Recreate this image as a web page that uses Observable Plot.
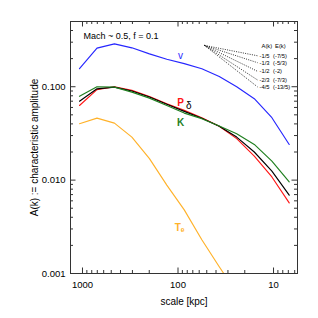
<!DOCTYPE html>
<html><head><meta charset="utf-8">
<script src="https://cdn.jsdelivr.net/npm/d3@7"></script>
<script src="https://cdn.jsdelivr.net/npm/@observablehq/plot@0.6"></script>
<style>
body{margin:0;background:#fff}
svg{font-family:"Liberation Sans",Arial,Helvetica,sans-serif}
</style>
</head><body><div id="chart"></div>
<script>
// scale [kpc] at each sampled point
const scaleKpc = [1075, 705, 463, 304, 199, 131, 86, 56.3, 37, 24.3, 15.9, 10.4, 6.85];
// characteristic amplitudes A(k)
const ampV     = [0.156, 0.259, 0.288, 0.261, 0.225, 0.197, 0.177, 0.156, 0.129, 0.100, 0.0744, 0.0466, 0.0241];
const ampP     = [0.063, 0.093, 0.100, 0.0914, 0.0787, 0.0658, 0.0558, 0.0466, 0.0377, 0.0278, 0.0181, 0.0108, 0.0057];
const ampDelta = [0.070, 0.095, 0.099, 0.090, 0.0775, 0.065, 0.0545, 0.046, 0.0377, 0.0289, 0.0200, 0.0125, 0.0069];
const ampK     = [0.079, 0.100, 0.099, 0.0875, 0.0755, 0.063, 0.0522, 0.0455, 0.0379, 0.0314, 0.0241, 0.0160, 0.0096];
const ampTe    = [0.0402, 0.0461, 0.0408, 0.0289, 0.0170, 0.00885, 0.0048, 0.0023, 0.00118, 0.00062];

const seriesNames  = ["v", "P", "δ", "K", "Tₑ"];
const seriesColors = ["#2626ff", "#ff1616", "#000000", "#1f7f1f", "#ffb22a"];
const seriesWeight = ["normal", "bold", "normal", "bold", "bold"];
const seriesValues = [ampV, ampP, ampDelta, ampK, ampTe];
// label anchor positions (scale, amplitude)
const labelScale = [94, 94, 77, 94, 96];
const labelAmp   = [0.216, 0.068, 0.063, 0.0415, 0.0031];

// legend: power-law slopes
const slopeA = ["-1/5", "-1/3", "-1/2", "-2/3", "-4/5"];
const slopeE = ["(-7/5)", "(-5/3)", "(-2)", "(-7/3)", "(-13/5)"];
const slopeP = [1/5, 1/3, 1/2, 2/3, 4/5];
const slopeStart = {x: 52.8, y: 0.277};
const slopeEndX = 14.7;

const xTicks = [1000, 100, 10];
const yTicks = [0.001, 0.01, 0.1];

const W = 318, H = 318, mL = 70, mR = 21, mT = 21, mB = 45;
const pw = W - mL - mR, ph = H - mT - mB;
const xDomain = [1335, 5.61], yDomain = [0.001, 0.4995];

const minorX = [], minorY = [];
for (const dec of [1, 10, 100, 1000]) for (let m = 2; m <= 9; m++) {
  const v = dec * m; if (v > xDomain[1] && v < xDomain[0]) minorX.push(v);
}
for (const dec of [0.001, 0.01, 0.1]) for (let m = 2; m <= 9; m++) {
  const v = dec * m; if (v > yDomain[0] && v < yDomain[1]) minorY.push(v);
}

const lines = [];
seriesValues.forEach((vals, s) => vals.forEach((a, i) => lines.push({x: scaleKpc[i], y: a, s})));
const labels = seriesNames.map((n, s) => ({n, x: labelScale[s], y: labelAmp[s], c: seriesColors[s], w: seriesWeight[s]}));
const legend = slopeP.map((p, i) => ({
  x1: slopeStart.x, y1: slopeStart.y, x2: slopeEndX,
  y2: slopeStart.y * Math.pow(slopeEndX / slopeStart.x, p), a: slopeA[i], e: slopeE[i]
}));

const majL = 5.5, minL = 3;
const ink = "#333";
const chart = Plot.plot({
  width: W, height: H, marginLeft: mL, marginRight: mR, marginTop: mT, marginBottom: mB,
  style: {fontFamily: '"Liberation Sans", Arial, sans-serif', background: "#fff"},
  x: {type: "log", domain: xDomain},
  y: {type: "log", domain: yDomain},
  marks: [
    Plot.line(lines, {x: "x", y: "y", z: "s", stroke: d => seriesColors[d.s], strokeWidth: 1.15, clip: true}),
    Plot.link(legend, {x1: "x1", y1: "y1", x2: "x2", y2: "y2", stroke: "#000", strokeWidth: 0.8, strokeDasharray: "1,1.3"}),
    Plot.text(legend, {x: "x2", y: "y2", text: "a", textAnchor: "start", dx: 2, fontSize: 5.8, fill: "#000"}),
    Plot.text(legend, {x: "x2", y: "y2", text: "e", textAnchor: "start", dx: 15.5, fontSize: 5.8, fill: "#000"}),
    Plot.text(legend.slice(0, 1), {x: "x2", y: "y2", text: () => "A(k)", textAnchor: "start", dx: 4, dy: -10, fontSize: 5.8, fill: "#000"}),
    Plot.text(legend.slice(0, 1), {x: "x2", y: "y2", text: () => "E(k)", textAnchor: "start", dx: 17.5, dy: -10, fontSize: 5.8, fill: "#000"}),
    Plot.text(labels.filter(d => d.w === "bold"), {x: "x", y: "y", text: "n", fill: "c", fontSize: 10, fontWeight: "bold"}),
    Plot.text(labels.filter(d => d.w !== "bold"), {x: "x", y: "y", text: "n", fill: "c", fontSize: 10}),
    Plot.text(["Mach ~ 0.5, f = 0.1"], {frameAnchor: "top-left", dx: 13, dy: 15, textAnchor: "start", lineAnchor: "middle", fontSize: 9, fill: "#000"}),
    // inward ticks, all four sides
    Plot.tickX(xTicks, {x: d => d, insetTop: ph - majL, stroke: ink}),
    Plot.tickX(minorX, {x: d => d, insetTop: ph - minL, stroke: ink}),
    Plot.tickX(xTicks, {x: d => d, insetBottom: ph - majL, stroke: ink}),
    Plot.tickX(minorX, {x: d => d, insetBottom: ph - minL, stroke: ink}),
    Plot.tickY(yTicks, {y: d => d, insetRight: pw - majL, stroke: ink}),
    Plot.tickY(minorY, {y: d => d, insetRight: pw - minL, stroke: ink}),
    Plot.tickY(yTicks, {y: d => d, insetLeft: pw - majL, stroke: ink}),
    Plot.tickY(minorY, {y: d => d, insetLeft: pw - minL, stroke: ink}),
    Plot.frame({stroke: ink, strokeWidth: 1}),
    Plot.axisX(xTicks, {tickSize: 0, tickPadding: 8, tickFormat: d => String(d), fontSize: 9.5, fill: "#000", label: null}),
    Plot.axisY(yTicks, {tickSize: 0, tickPadding: 5, tickFormat: d3.format(".3f"), fontSize: 9.5, fill: "#000", label: null}),
    Plot.text(["scale [kpc]"], {frameAnchor: "bottom", dy: 28, lineAnchor: "middle", textAnchor: "middle", fontSize: 10, fill: "#000"}),
    Plot.text(["A(k) := characteristic amplitude"], {frameAnchor: "left", dx: -36, rotate: -90, textAnchor: "middle", lineAnchor: "middle", fontSize: 10, fill: "#000"})
  ]
});
document.getElementById("chart").appendChild(chart);
</script>
</body></html>
